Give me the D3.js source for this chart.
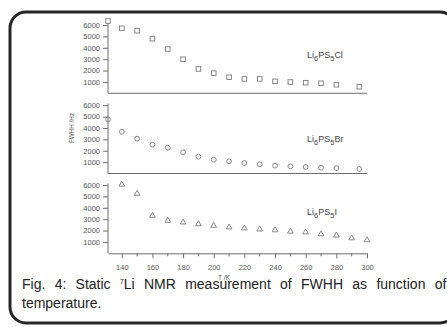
<!DOCTYPE html>
<html>
<head>
<meta charset="utf-8">
<script src="https://cdn.jsdelivr.net/npm/d3@7"></script>
<style>
    body { margin: 0; background: #fff; }
    svg { display: block; font-family: "Liberation Sans", Arial, sans-serif; }
    .axis path, .axis line { stroke: #6e6e6e; stroke-width: 1; }
    .axis text { fill: #555; font-size: 7.5px; }
</style>
</head>
<body>
<svg id="plot-svg" width="447" height="327"></svg>
<script>
// Data
const tempsClBr = [131, 140, 150, 160, 170, 180, 190, 200, 210, 220, 230, 240, 250, 260, 270, 280, 295];
const tempsI = [140, 150, 160, 170, 180, 190, 200, 210, 220, 230, 240, 250, 260, 270, 280, 290, 300];
const fwhhCl = [6350, 5710, 5500, 4800, 3890, 2990, 2140, 1770, 1410, 1260, 1260, 1050, 990, 930, 880, 760, 580];
const fwhhBr = [4760, 3670, 3060, 2530, 2270, 1860, 1480, 1210, 1070, 920, 810, 690, 630, 570, 510, 480, 400];
const fwhhI = [6050, 5240, 3300, 2870, 2720, 2570, 2430, 2290, 2200, 2110, 2030, 1910, 1850, 1680, 1570, 1330, 1160];
const yTicks = [1000, 2000, 3000, 4000, 5000, 6000];
const xTicks = [140, 160, 180, 200, 220, 240, 260, 280, 300];
const xMinorTicks = [150, 170, 190, 210, 230, 250, 270, 290];

const panels = [
    {name: ["Li", "6", "PS", "5", "Cl"], temps: tempsClBr, values: fwhhCl, marker: "square", y0: 93.3, labelY: 58},
    {name: ["Li", "6", "PS", "5", "Br"], temps: tempsClBr, values: fwhhBr, marker: "circle", y0: 173.5, labelY: 142},
    {name: ["Li", "6", "PS", "5", "I"], temps: tempsI, values: fwhhI, marker: "triangle", y0: 253.3, labelY: 215}
];

const svg = d3.select("#plot-svg");

// frame
svg.append("rect")
    .attr("x", 10).attr("y", 12)
    .attr("width", 446).attr("height", 311)
    .attr("rx", 16).attr("ry", 16)
    .attr("fill", "#fff")
    .attr("stroke", "#262626")
    .attr("stroke-width", 3);

const xScale = d3.scaleLinear().domain([131, 300]).range([108, 367]);
const markColor = "#7a7a7a";

panels.forEach((p, i) => {
    const yScale = d3.scaleLinear().domain([0, 6000]).range([p.y0, p.y0 - 68.3]);
    const g = svg.append("g");

    // y axis
    const yAxis = d3.axisLeft(yScale)
        .tickValues(yTicks)
        .tickFormat(d3.format("d"))
        .tickSize(5).tickSizeOuter(0).tickPadding(3);
    const ya = g.append("g")
        .attr("class", "axis")
        .attr("transform", "translate(108,0)")
        .call(yAxis);
    ya.select("path.domain").attr("d", "M0," + yScale(0) + "V" + yScale(6150));

    // x axis line (ticks only on the bottom panel)
    if (i < 2) {
        g.append("line")
            .attr("x1", xScale(131)).attr("x2", xScale(300))
            .attr("y1", yScale(0)).attr("y2", yScale(0))
            .attr("stroke", "#6e6e6e");
    } else {
        const xAxis = d3.axisBottom(xScale).tickValues(xTicks).tickSize(5).tickSizeOuter(0).tickPadding(6);
        g.append("g")
            .attr("class", "axis")
            .attr("transform", "translate(0," + yScale(0) + ")")
            .call(xAxis);
        g.append("g")
            .selectAll("line")
            .data(xMinorTicks)
            .enter()
            .append("line")
            .attr("x1", d => xScale(d)).attr("x2", d => xScale(d))
            .attr("y1", yScale(0)).attr("y2", yScale(0) + 3)
            .attr("stroke", "#6e6e6e");
    }

    // markers
    const pts = p.temps.map((t, k) => ({t: t, v: p.values[k]}));
    const mg = g.append("g");
    if (p.marker === "square") {
        mg.selectAll("rect").data(pts).enter().append("rect")
            .attr("x", d => xScale(d.t) - 2.3)
            .attr("y", d => yScale(d.v) - 2.3)
            .attr("width", 4.6).attr("height", 4.6)
            .attr("fill", "none").attr("stroke", markColor).attr("stroke-width", 0.9);
    } else if (p.marker === "circle") {
        mg.selectAll("circle").data(pts).enter().append("circle")
            .attr("cx", d => xScale(d.t))
            .attr("cy", d => yScale(d.v))
            .attr("r", 2.4)
            .attr("fill", "none").attr("stroke", markColor).attr("stroke-width", 0.9);
    } else {
        const tri = d3.symbol().type(d3.symbolTriangle).size(14);
        mg.selectAll("path").data(pts).enter().append("path")
            .attr("d", tri)
            .attr("transform", d => "translate(" + xScale(d.t) + "," + yScale(d.v) + ")")
            .attr("fill", "none").attr("stroke", markColor).attr("stroke-width", 0.9);
    }

    // compound label with subscripts
    const lab = g.append("text")
        .attr("x", 307).attr("y", p.labelY)
        .attr("fill", "#444")
        .style("font-size", "9px");
    p.name.forEach((s, k) => {
        const sub = k % 2 === 1;
        lab.append("tspan")
            .attr("dy", sub ? 2.5 : (k > 0 ? -2.5 : 0))
            .style("font-size", sub ? "7.5px" : "9px")
            .text(s);
    });
});

// axis titles
svg.append("text")
    .attr("transform", "translate(74,128) rotate(-90)")
    .attr("text-anchor", "middle")
    .attr("fill", "#555")
    .style("font-size", "6.3px")
    .text("FWHH /Hz");

svg.append("text")
    .attr("x", 224).attr("y", 280)
    .attr("text-anchor", "middle")
    .attr("fill", "#555")
    .style("font-size", "6.5px")
    .text("T /K");

// caption, first line justified to the frame width
const cap = svg.append("text")
    .attr("x", 22).attr("y", 289)
    .attr("fill", "#222")
    .style("font-size", "14px");
cap.append("tspan").text("Fig. 4: Static ");
cap.append("tspan").attr("dy", -5).style("font-size", "7px").text("7");
cap.append("tspan").attr("dy", 5).text("Li NMR measurement of FWHH as function of");
const capLen = cap.node().getComputedTextLength();
cap.style("word-spacing", Math.max(0, (441 - 22 - capLen) / 9) + "px");

svg.append("text")
    .attr("x", 22).attr("y", 308)
    .attr("fill", "#222")
    .style("font-size", "14px")
    .text("temperature.");
</script>
</body>
</html>
